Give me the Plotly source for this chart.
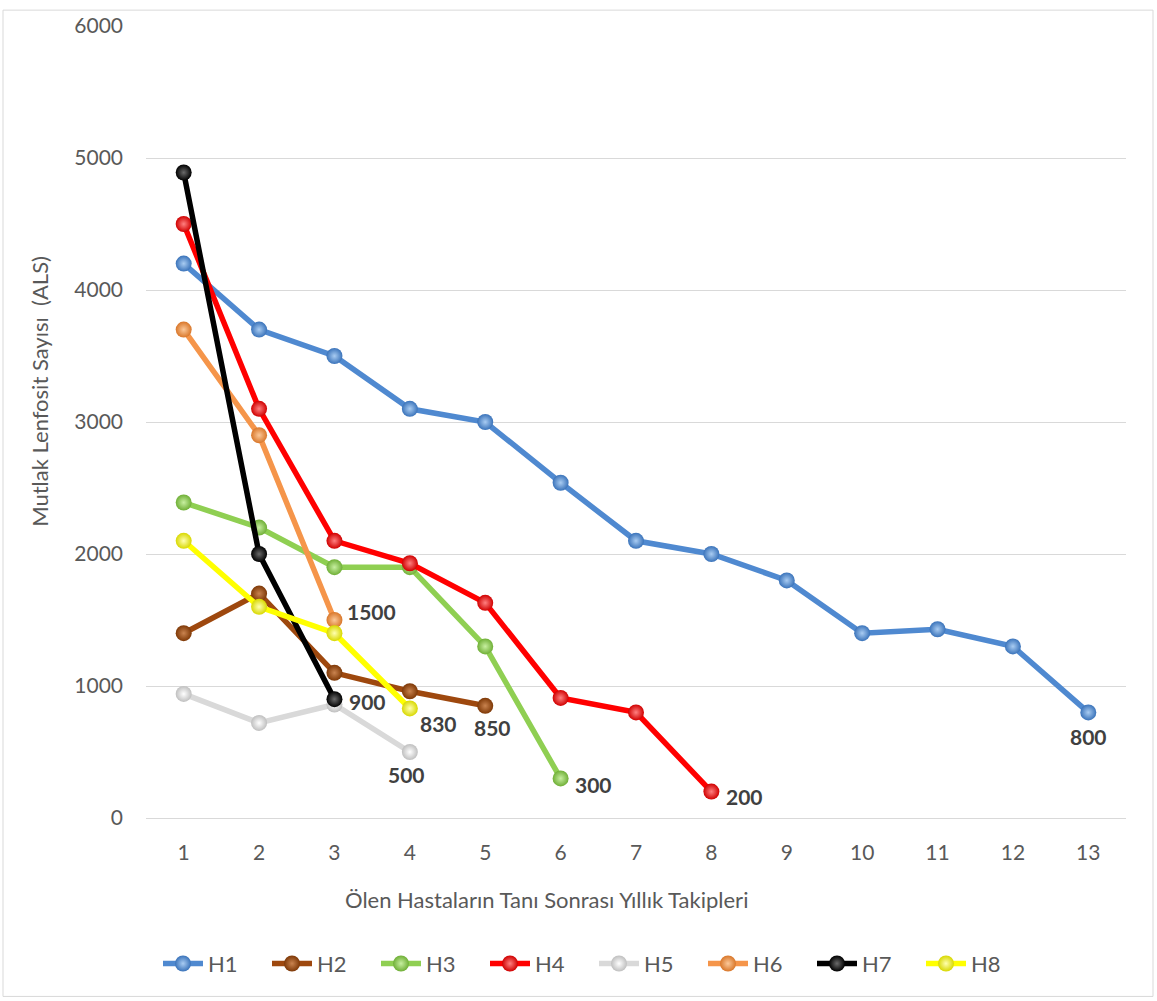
import plotly.graph_objects as go

# Follow-up years after diagnosis
years = list(range(1, 14))

# Absolute lymphocyte counts per patient (H1..H8)
h1 = [4200, 3700, 3500, 3100, 3000, 2540, 2100, 2000, 1800, 1400, 1430, 1300, 800]
h2 = [1400, 1700, 1100, 960, 850]
h3 = [2390, 2200, 1900, 1900, 1300, 300]
h4 = [4500, 3100, 2100, 1930, 1630, 910, 800, 200]
h5 = [940, 720, 860, 500]
h6 = [3700, 2900, 1500]
h7 = [4890, 2000, 900]
h8 = [2100, 1600, 1400, 830]

names = ["H1", "H2", "H3", "H4", "H5", "H6", "H7", "H8"]
series = [h1, h2, h3, h4, h5, h6, h7, h8]
line_colors = ["#4F89D0", "#9E480E", "#8FCF52", "#FF0000",
               "#D9D9D9", "#F5954A", "#000000", "#FFFF00"]
marker_colors = ["#3A73BA", "#7E3806", "#6FAF36", "#D00000",
                 "#BFBFBF", "#D9772A", "#000000", "#D8D800"]
highlight = ["#A9CCF2", "#C9834F", "#C7EFA0", "#FF8080",
             "#FFFFFF", "#FBC899", "#6A6A6A", "#FFFFB0"]

# Offsets (px) of the end-of-series value labels
label_shift = {
    "H1": (0, -24), "H2": (7, -22), "H3": (33, -6), "H4": (33, -5),
    "H5": (-3, -22), "H6": (37, 9), "H7": (33, -2), "H8": (29, -15),
}

label_font = "Lato, Calibri, 'Liberation Sans', sans-serif"
text_color = "#595959"

fig = go.Figure()
for name, vals, lc, mc, hc in zip(names, series, line_colors, marker_colors, highlight):
    fig.add_trace(go.Scatter(
        x=years[:len(vals)], y=vals, name=name, mode="lines+markers",
        line=dict(color=lc, width=5.5),
        marker=dict(size=16, color=mc, line=dict(width=0),
                    gradient=dict(type="radial", color=hc)),
    ))

annotations = []
for name, vals in zip(names, series):
    dx, dy = label_shift[name]
    annotations.append(dict(
        x=len(vals), y=vals[-1], text=f"<b>{vals[-1]}</b>", showarrow=False,
        xshift=dx, yshift=dy, font=dict(family=label_font, size=21, color="#404040"),
    ))

# Axis titles
annotations.append(dict(
    text="Mutlak Lenfosit Sayısı  (ALS)", xref="paper", yref="paper",
    x=(40 - 146) / 980, y=(818 - 388) / 799, textangle=-90, showarrow=False,
    xanchor="center", yanchor="middle",
    font=dict(family=label_font, size=22, color=text_color),
))
annotations.append(dict(
    text="Ölen Hastaların Tanı Sonrası Yıllık Takipleri", xref="paper", yref="paper",
    x=(546 - 146) / 980, y=(818 - 900) / 799, showarrow=False,
    xanchor="center", yanchor="middle",
    font=dict(family=label_font, size=22, color=text_color),
))

fig.update_layout(
    width=1157, height=1001,
    margin=dict(l=146, r=31, t=19, b=183),
    paper_bgcolor="white", plot_bgcolor="white",
    font=dict(family=label_font, color=text_color, size=20),
    showlegend=True,
    legend=dict(
        orientation="h", x=(594 - 146) / 980, xanchor="center",
        y=(818 - 965) / 799, yanchor="middle",
        font=dict(size=22, color=text_color),
        entrywidth=54, itemwidth=40,
    ),
    annotations=annotations,
    shapes=[dict(type="rect", xref="paper", yref="paper",
                 x0=(3 - 146) / 980, x1=(1153 - 146) / 980,
                 y0=(818 - 998) / 799, y1=(818 - 3) / 799,
                 line=dict(color="#D9D9D9", width=1), layer="below")],
)

fig.update_xaxes(
    range=[0.5, 13.5], tickmode="array", tickvals=years,
    ticktext=[str(v) for v in years], showgrid=False, zeroline=False,
    showline=False, ticks="", ticklabelstandoff=20,
    tickfont=dict(size=21, color=text_color),
)
fig.update_yaxes(
    range=[0, 6000], dtick=1000, showgrid=True, gridcolor="#D9D9D9", gridwidth=1,
    zeroline=True, zerolinecolor="#D9D9D9", zerolinewidth=1, showline=False,
    ticks="", ticklabelstandoff=22, tickfont=dict(size=21, color=text_color),
)

fig.write_html("out.html")
